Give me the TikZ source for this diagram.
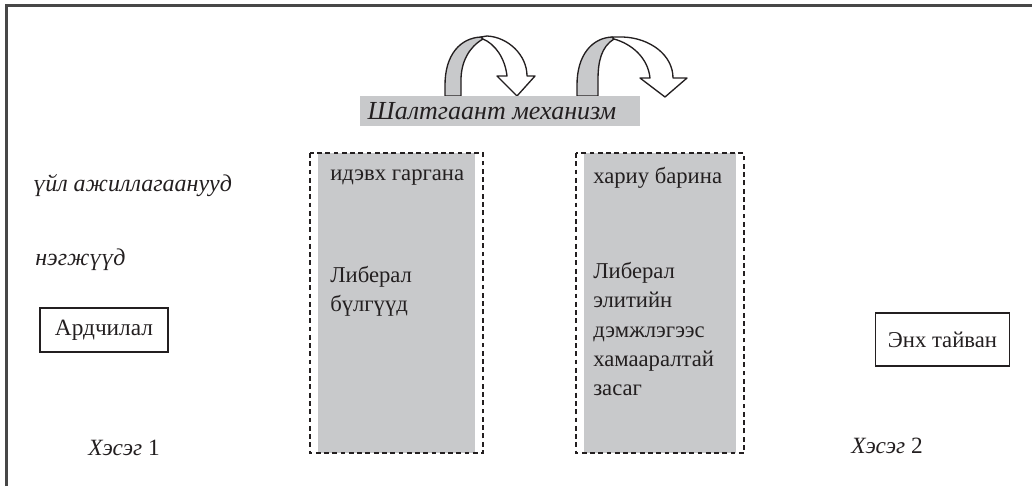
\documentclass[tikz,border=0pt]{standalone}
\usepackage{fontspec}
\setmainfont{Liberation Serif}
\definecolor{ink}{HTML}{231F20}
\definecolor{panel}{HTML}{C8C9CB}
\begin{document}
\begin{tikzpicture}[x=0.75pt,y=-0.75pt,
  txt/.style={inner sep=0pt,text=ink,font=\fontsize{17}{22}\selectfont},
  itx/.style={txt,font=\fontsize{18}{22}\selectfont\itshape},
  framebox/.style={draw=ink,line width=0.9pt,inner sep=0pt,fill=white},
  dashbox/.style={draw=ink,line width=1.1pt,dash pattern=on 3.6pt off 2.6pt},
  ribbon/.style={draw=ink,line width=1pt,line join=round}]
\useasboundingbox (0,0) rectangle (1032,486);
% outer frame (top and left edges visible)
\draw[line width=1.6pt,draw=black!72] (6.5,486) -- (6.5,5.5) -- (1032,5.5);

% curved arrows
\draw[ribbon,fill=panel] (445,96) -- (445,85) .. controls (445,55) and (460,38) .. (481,37)
   -- (483,39) .. controls (469,47) and (461,62) .. (461,80) -- (461,96) -- cycle;
\draw[ribbon,fill=white] (481,37) -- (487,36) .. controls (508,37) and (527,55) .. (527,76)
   -- (535,76) -- (517,96) -- (497,76) -- (507,76) .. controls (505,58) and (495,44) .. (483,39) -- cycle;

\draw[ribbon,fill=panel] (577,96) -- (577,85) .. controls (577,55) and (592,38) .. (612,37)
   -- (614,39) .. controls (601,47) and (598,62) .. (598,80) -- (598,96) -- cycle;
\draw[ribbon,fill=white] (612,37) -- (623,37) .. controls (650,38) and (673,55) .. (673,78)
   -- (687,78) -- (665,97) -- (640,78) -- (650,78) .. controls (648,58) and (632,44) .. (614,39) -- cycle;

% mechanism bar
\node[fill=panel,minimum width=210pt,minimum height=22.5pt,inner sep=0pt] (bar) at (500,111) {};
\node[itx,font=\fontsize{19.5}{22}\selectfont\itshape] (barlabel) at (492,111) {Шалтгаант механизм};

% left labels
\node[itx,anchor=west] (acts) at (33,186) {үйл ажиллагаанууд};
\node[itx,anchor=west] (units) at (35,260) {нэгжүүд};
\node[framebox,minimum width=96pt,minimum height=33pt] (demo) at (104,330) {};
\node[txt,font=\fontsize{17.5}{22}\selectfont] (demotxt) at (104,330) {Ардчилал};
\node[itx,font=\fontsize{17.5}{22}\selectfont\itshape] (phase1) at (124,448) {Хэсэг \upshape 1};

% right labels
\node[framebox,minimum width=101pt,minimum height=39.75pt] (peace) at (942.5,339.5) {};
\node[txt] (peacetxt) at (942.5,340) {Энх тайван};
\node[itx,font=\fontsize{17.5}{22}\selectfont\itshape] (phase2) at (887,446) {Хэсэг \upshape 2};

% column 1
\path[fill=panel] (318,153) rectangle (475,453);
\draw[dashbox] (310,153) rectangle (483,453);
\node[txt,anchor=west] (act1) at (330,178) {идэвх гаргана};
\node[txt,anchor=north west,align=left] (grp1) at (330,266) {Либерал\\бүлгүүд};

% column 2
\path[fill=panel] (584,153) rectangle (736,453);
\draw[dashbox] (576,153) rectangle (744,453);
\node[txt,anchor=west] (act2) at (593,178) {хариу барина};
\node[txt,anchor=north west,align=left] (grp2) at (593,262) {Либерал\\элитийн\\дэмжлэгээс\\хамааралтай\\засаг};
\end{tikzpicture}
\end{document}
